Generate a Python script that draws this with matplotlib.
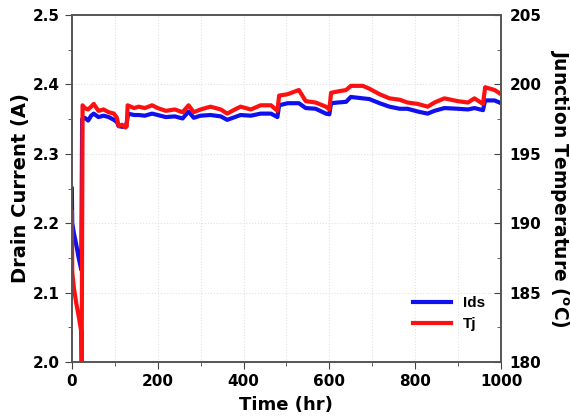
import numpy as np
import matplotlib.pyplot as plt
from matplotlib.ticker import MultipleLocator

# text in the source is wide, DejaVu bold fits its extents best
plt.rcParams['font.family'] = ['DejaVu Sans']
plt.rcParams['font.weight'] = 'bold'
legend_font = ['Liberation Sans', 'DejaVu Sans']

## Drain current (left axis)
ids_t = [0, 1, 5, 10, 16, 22, 24, 30, 38, 45, 51, 62, 74, 86, 98, 105, 109, 117, 125, 128,
         131, 145, 156, 170, 187, 200, 219, 240, 258, 272, 284, 300, 323, 347, 362, 380, 393,
         417, 440, 464, 479, 483, 503, 529, 545, 568, 592, 600, 604, 620, 639, 650, 678, 693,
         717, 740, 764, 782, 806, 829, 845, 868, 899, 923, 938, 958, 963, 985, 1000]
ids_val = [2.250, 2.200, 2.185, 2.170, 2.150, 2.133, 2.350, 2.352, 2.348, 2.355, 2.358, 2.353,
           2.355, 2.353, 2.349, 2.346, 2.340, 2.339, 2.339, 2.345, 2.358, 2.356, 2.356, 2.355,
           2.358, 2.356, 2.353, 2.354, 2.351, 2.361, 2.352, 2.355, 2.356, 2.354, 2.349, 2.353,
           2.356, 2.355, 2.358, 2.358, 2.353, 2.370, 2.373, 2.373, 2.366, 2.365, 2.358, 2.357,
           2.373, 2.374, 2.375, 2.382, 2.380, 2.379, 2.373, 2.368, 2.365, 2.365, 2.361, 2.358,
           2.362, 2.366, 2.365, 2.364, 2.366, 2.363, 2.377, 2.377, 2.373]

## Junction temperature (right axis)
tj_t = [0, 1, 5, 10, 16, 22, 23, 25, 30, 38, 45, 51, 62, 74, 86, 98, 105, 109, 117, 125, 128,
        130, 145, 156, 170, 187, 200, 219, 240, 258, 272, 284, 300, 323, 347, 362, 380, 393,
        417, 440, 464, 479, 483, 503, 529, 545, 568, 592, 600, 604, 620, 639, 650, 678, 693,
        717, 740, 764, 782, 806, 829, 845, 868, 899, 923, 938, 958, 963, 985, 1000]
tj_val = [190.8, 186.5, 185.3, 184.3, 183.3, 182.2, 180.0, 198.5, 198.3, 198.2, 198.4, 198.6,
          198.1, 198.2, 198.0, 197.9, 197.6, 197.0, 197.1, 196.9, 197.0, 198.5, 198.3, 198.4,
          198.3, 198.5, 198.3, 198.1, 198.2, 198.0, 198.5, 198.0, 198.2, 198.4, 198.2, 197.9,
          198.2, 198.4, 198.2, 198.5, 198.5, 198.1, 199.2, 199.3, 199.6, 198.8, 198.7, 198.4,
          198.2, 199.4, 199.5, 199.6, 199.9, 199.9, 199.7, 199.3, 199.0, 198.9, 198.7, 198.6,
          198.4, 198.7, 199.0, 198.8, 198.7, 199.0, 198.6, 199.8, 199.6, 199.3]

fig = plt.figure(figsize=(5.7, 4.19), dpi=100)
ax = fig.add_axes([0.126, 0.136, 0.753, 0.828])
ax2 = ax.twinx()

l1, = ax.plot(ids_t, ids_val, color='#1010ee', linewidth=3.0, label='Ids')
l2, = ax2.plot(tj_t, tj_val, color='#ff1010', linewidth=3.0, label='Tj')

ax.set_xlim([0, 1000])
ax.set_ylim([2.0, 2.5])
ax2.set_ylim([180, 205])

ax.xaxis.set_major_locator(MultipleLocator(200))
ax.xaxis.set_minor_locator(MultipleLocator(100))
ax.yaxis.set_major_locator(MultipleLocator(0.1))
ax.yaxis.set_minor_locator(MultipleLocator(0.05))
ax2.yaxis.set_major_locator(MultipleLocator(5))
ax2.yaxis.set_minor_locator(MultipleLocator(2.5))

ax.grid(True, which='both', axis='x', color='#e2e2e2', linestyle=':', linewidth=0.8)
ax.grid(True, which='major', axis='y', color='#e2e2e2', linestyle=':', linewidth=0.8)

ax.tick_params(axis='both', which='both', direction='out', labelsize=11, colors='#444444',
               labelcolor='black', top=False, right=False)
ax.tick_params(which='major', length=5)
ax.tick_params(which='minor', length=3)
ax2.tick_params(axis='y', which='both', direction='in', labelsize=11, colors='#444444',
                labelcolor='black', pad=6)
ax2.tick_params(which='major', length=5)
ax2.tick_params(which='minor', length=3)

for a in (ax, ax2):
    for s in a.spines.values():
        s.set_color('#555555')
        s.set_linewidth(1.2)

ax.set_xlabel("Time (hr)", fontsize=13, fontweight='bold', labelpad=5)
ax.set_ylabel("Drain Current (A)", fontsize=14, fontweight='bold', labelpad=2)
ax2.set_ylabel(r"Junction Temperature ($^{\rm o}$C)", fontsize=13.5, fontweight='bold',
               rotation=270, labelpad=21)

ax2.legend([l1, l2], ['Ids', 'Tj'], loc='lower right', bbox_to_anchor=(0.995, 0.05),
           frameon=False, handlelength=2.5, labelspacing=0.45,
           prop={'family': legend_font, 'weight': 'bold', 'size': 11})

plt.savefig("out.png", dpi=100)
